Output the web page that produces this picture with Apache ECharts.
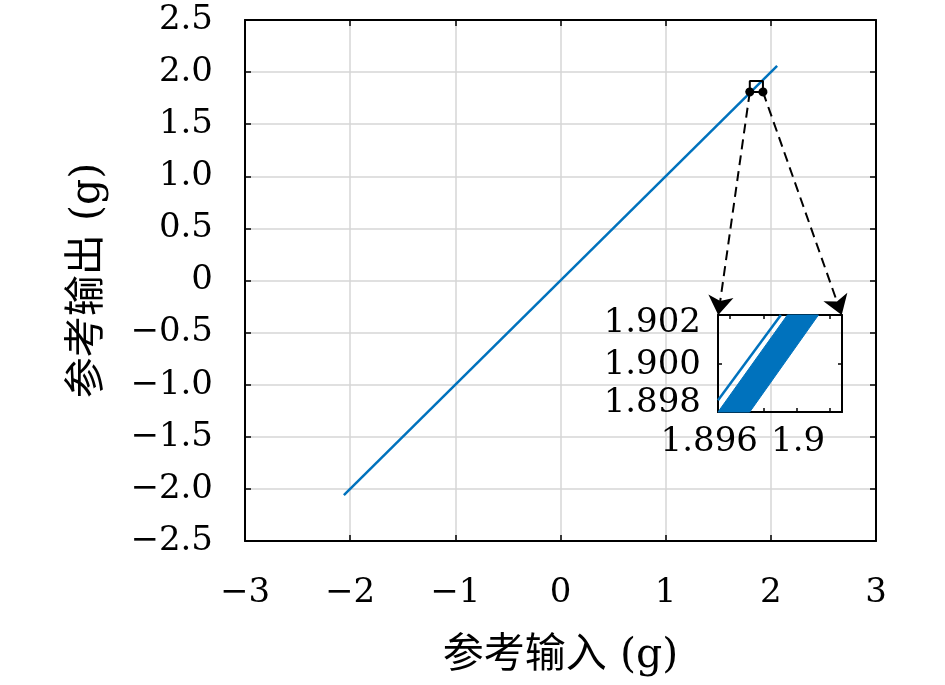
<!DOCTYPE html>
<html>
<head>
<meta charset="utf-8">
<script src="https://cdn.jsdelivr.net/npm/echarts@6/dist/echarts.min.js"></script>
<style>html,body{margin:0;padding:0;background:#fff}#c{width:945px;height:685px}</style>
</head>
<body>
<div id="c"></div>
<script>
// ---- data ----
const xTickValues = [-3, -2, -1, 0, 1, 2, 3];
const xTickLabels = ['−3', '−2', '−1', '0', '1', '2', '3'];
const yTickValues = [-2.5, -2, -1.5, -1, -0.5, 0, 0.5, 1, 1.5, 2, 2.5];
const yTickLabels = ['−2.5', '−2.0', '−1.5', '−1.0', '−0.5', '0', '0.5', '1.0', '1.5', '2.0', '2.5'];
const mainLineX = [-2.06, 2.06];
const mainLineY = [-2.06, 2.06];
// zoom rectangle on main plot (data units)
const zoomBoxX = [1.80, 1.925, 1.925, 1.80, 1.80];
const zoomBoxY = [1.81, 1.81, 1.915, 1.915, 1.81];
// connector arrows: start (zoom box corners) -> end (inset top corners), data units of main axes
const arrowStartX = [1.80, 1.925];
const arrowStartY = [1.81, 1.81];
const arrowEndX = [1.50, 2.674];
const arrowEndY = [-0.331, -0.331];
// inset
const insetXRange = [1.89545, 1.90103];
const insetYRange = [1.898, 1.902];
const insetXLabelValues = [1.896, 1.9];
const insetXLabels = ['1.896', '1.9'];
const insetXTickValues = [1.896, 1.8975, 1.899, 1.9005];
const insetYTickValues = [1.898, 1.9, 1.902];
const insetYLabels = ['{lo|1.898}', '{mid|1.900}', '{hi|1.902}'];
const thinLineX = [1.89545, 1.89828];
const thinLineY = [1.89848, 1.902];
// band (dense overlapping traces) outline
const bandX = [1.89545, 1.89857, 1.89997, 1.89688];
const bandY = [1.898, 1.902, 1.902, 1.898];

const FONT = '"DejaVu Serif", "Noto Sans CJK SC", serif';
const BLUE = '#0072BD';
const LABEL_SIZE = 34;

function labelFor(values, labels) {
  return function (v) {
    let best = 0, d = Infinity;
    values.forEach((t, i) => { const dd = Math.abs(t - v); if (dd < d) { d = dd; best = i; } });
    return labels[best];
  };
}
const zip = (a, b) => a.map((v, i) => [v, b[i]]);

const chart = echarts.init(document.getElementById('c'), null, { renderer: 'canvas' });

const tickStyle = { lineStyle: { color: '#000', width: 1.5 } };
const axisLine = { show: true, onZero: false, lineStyle: { color: '#000', width: 2 } };
const richBase = { fontFamily: FONT, fontSize: LABEL_SIZE, color: '#000' };

const option = {
  animation: false,
  backgroundColor: '#fff',
  grid: [
    { left: 245, top: 20, width: 631, height: 521, containLabel: false },
    { left: 718, top: 315, width: 124, height: 97, containLabel: false }
  ],
  xAxis: [
    {
      gridIndex: 0, type: 'value', min: -3, max: 3, interval: 1,
      name: '参考输入 (g)', nameLocation: 'middle', nameGap: 95,
      nameTextStyle: { fontFamily: FONT, fontSize: 41, color: '#000' },
      axisLine: axisLine,
      axisTick: { show: true, inside: true, length: 6, ...tickStyle },
      axisLabel: { margin: 35, fontFamily: FONT, fontSize: LABEL_SIZE, color: '#000', formatter: labelFor(xTickValues, xTickLabels) },
      splitLine: { show: true, lineStyle: { color: '#d6d6d6', width: 1.5 } }
    },
    {
      gridIndex: 0, type: 'value', min: -3, max: 3, interval: 1, position: 'top',
      axisLine: axisLine, axisLabel: { show: false }, splitLine: { show: false },
      axisTick: { show: true, inside: true, length: 6, ...tickStyle }
    },
    {
      gridIndex: 1, type: 'value', min: insetXRange[0], max: insetXRange[1],
      axisLine: axisLine, splitLine: { show: false },
      axisTick: { show: true, inside: true, length: 4, customValues: insetXTickValues, ...tickStyle },
      axisLabel: { customValues: insetXLabelValues, margin: 13, padding: [0, 42, 0, 0], fontFamily: FONT, fontSize: LABEL_SIZE, color: '#000', formatter: labelFor(insetXLabelValues, insetXLabels) }
    },
    {
      gridIndex: 1, type: 'value', min: insetXRange[0], max: insetXRange[1], position: 'top',
      axisLine: axisLine, splitLine: { show: false }, axisLabel: { show: false },
      axisTick: { show: true, inside: true, length: 4, customValues: insetXTickValues, ...tickStyle }
    }
  ],
  yAxis: [
    {
      gridIndex: 0, type: 'value', min: -2.5, max: 2.5, interval: 0.5,
      name: '参考输出 (g)', nameLocation: 'middle', nameGap: 136,
      nameTextStyle: { fontFamily: FONT, fontSize: 41, color: '#000' },
      axisLine: axisLine,
      axisTick: { show: true, inside: true, length: 6, ...tickStyle },
      axisLabel: { margin: 32, fontFamily: FONT, fontSize: LABEL_SIZE, color: '#000', formatter: labelFor(yTickValues, yTickLabels) },
      splitLine: { show: true, lineStyle: { color: '#d6d6d6', width: 1.5 } }
    },
    {
      gridIndex: 0, type: 'value', min: -2.5, max: 2.5, interval: 0.5, position: 'right',
      axisLine: axisLine, axisLabel: { show: false }, splitLine: { show: false },
      axisTick: { show: true, inside: true, length: 6, ...tickStyle }
    },
    {
      gridIndex: 1, type: 'value', min: insetYRange[0], max: insetYRange[1], interval: 0.002,
      axisLine: axisLine, splitLine: { show: false },
      axisTick: { show: true, inside: true, length: 4, ...tickStyle },
      axisLabel: {
        margin: 17, fontFamily: FONT, fontSize: LABEL_SIZE, color: '#000',
        formatter: labelFor(insetYTickValues, insetYLabels),
        rich: {
          hi: { ...richBase, padding: [16, 0, 0, 0] },
          mid: { ...richBase, padding: [4, 0, 0, 0] },
          lo: { ...richBase, padding: [0, 0, 18, 0] }
        }
      }
    },
    {
      gridIndex: 1, type: 'value', min: insetYRange[0], max: insetYRange[1], interval: 0.002, position: 'right',
      axisLine: axisLine, splitLine: { show: false }, axisLabel: { show: false },
      axisTick: { show: true, inside: true, length: 4, ...tickStyle }
    }
  ],
  series: [
    {
      type: 'line', xAxisIndex: 0, yAxisIndex: 0, data: zip(mainLineX, mainLineY),
      symbol: 'none', lineStyle: { color: BLUE, width: 2.5 }, z: 3
    },
    {
      type: 'line', xAxisIndex: 0, yAxisIndex: 0, data: zip(zoomBoxX, zoomBoxY),
      symbol: 'none', lineStyle: { color: '#000', width: 2 }, z: 4, clip: false
    },
    {
      type: 'lines', coordinateSystem: 'cartesian2d', xAxisIndex: 0, yAxisIndex: 0,
      data: arrowStartX.map((x, i) => ({ coords: [[x, arrowStartY[i]], [arrowEndX[i], arrowEndY[i]]] })),
      symbol: ['circle', 'arrow'], symbolSize: [9, 19],
      lineStyle: { color: '#000', width: 2, type: [10, 6], opacity: 1 }, z: 5
    },
    {
      type: 'custom', xAxisIndex: 2, yAxisIndex: 2, data: [0],
      renderItem: function (params, api) {
        const pts = bandX.map((x, i) => api.coord([x, bandY[i]]));
        return { type: 'polygon', shape: { points: pts }, style: { fill: BLUE, stroke: BLUE, lineWidth: 1 } };
      }, z: 3
    },
    {
      type: 'line', xAxisIndex: 2, yAxisIndex: 2, data: zip(thinLineX, thinLineY),
      symbol: 'none', lineStyle: { color: BLUE, width: 2.5 }, z: 3
    }
  ]
};
chart.setOption(option);
</script>
</body>
</html>
